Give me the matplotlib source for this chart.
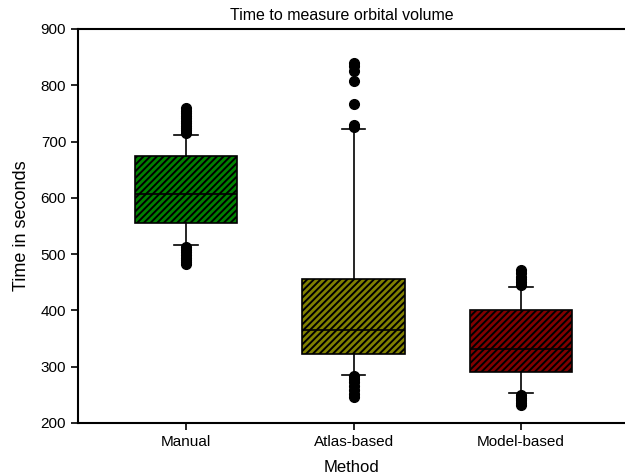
import matplotlib
matplotlib.use("Agg")
import matplotlib.pyplot as plt

plt.rcParams['font.family'] = ['Liberation Sans', 'DejaVu Sans']
plt.rcParams['hatch.linewidth'] = 1.4

methods = ["Manual", "Atlas-based", "Model-based"]
colors = ["#008000", "#808000", "#800000"]

# box statistics (seconds)
q1 = [555, 323, 290]
med = [606, 366, 332]
q3 = [675, 455, 401]
whislo = [516, 286, 254]
whishi = [712, 722, 442]

fliers_manual = [716, 720, 724, 728, 733, 737, 741, 746, 750, 755, 760,
                 513, 508, 503, 498, 494, 490, 486, 482]
fliers_atlas = [840, 834, 826, 808, 766, 730, 726,
                284, 279, 272, 265, 258, 252, 246]
fliers_model = [471, 466, 460, 455, 450, 445,
                250, 245, 240, 236, 232]
fliers = [fliers_manual, fliers_atlas, fliers_model]

stats = []
for i, m in enumerate(methods):
    stats.append(dict(label=m, q1=q1[i], med=med[i], q3=q3[i],
                      whislo=whislo[i], whishi=whishi[i], fliers=fliers[i]))

fig = plt.figure(figsize=(6.25, 4.76), dpi=100)
ax = fig.add_axes([78 / 625, 1 - 423 / 476, 1 - 78 / 625, (423 - 29) / 476])

bp = ax.bxp(stats, positions=[1, 2, 3], widths=0.61, capwidths=0.14,
            patch_artist=True,
            boxprops=dict(linewidth=1.2, edgecolor="black"),
            medianprops=dict(color="black", linewidth=1.2),
            whiskerprops=dict(color="black", linewidth=1.2),
            capprops=dict(color="black", linewidth=1.2),
            flierprops=dict(marker="o", markerfacecolor="black",
                            markeredgecolor="black", markersize=7))
for box, c in zip(bp["boxes"], colors):
    box.set_facecolor(c)
    box.set_hatch("/////")

ax.set_xlim(0.355, 3.62)
ax.set_ylim(200, 900)
ax.set_yticks(range(200, 901, 100))
ax.spines["right"].set_visible(False)
for s in ["left", "top", "bottom"]:
    ax.spines[s].set_linewidth(1.5)
ax.tick_params(direction="out", length=5, width=1.2, labelsize=11)

ax.set_ylabel("Time in seconds", fontsize=13, labelpad=8)
ax.set_xlabel("Method", fontsize=12, labelpad=8)
fig.text(342 / 625, 1 - 15 / 476, "Time to measure orbital volume",
         ha="center", va="center", fontsize=11.5)

fig.savefig("out.png", dpi=100)
